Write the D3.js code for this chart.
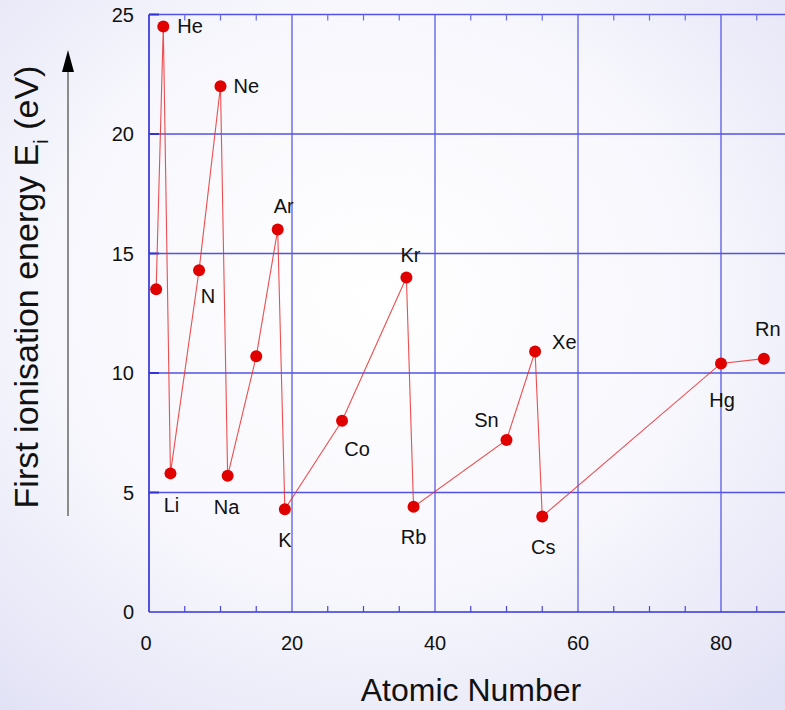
<!DOCTYPE html>
<html>
<head>
<meta charset="utf-8">
<script src="https://cdn.jsdelivr.net/npm/d3@7"></script>
<style>
  html, body { margin: 0; padding: 0; }
  body { width: 785px; height: 710px; overflow: hidden; }
  text { font-family: "Liberation Sans", Arial, sans-serif; fill: #111; }
</style>
</head>
<body>
<svg id="chart" width="785" height="710"></svg>
<script>
// First ionisation energies (eV) for selected elements
const atomicNumbers = [1, 2, 3, 7, 10, 11, 15, 18, 19, 27, 36, 37, 50, 54, 55, 80, 86];
const energies      = [13.5, 24.5, 5.8, 14.3, 22.0, 5.7, 10.7, 16.0, 4.3, 8.0, 14.0, 4.4, 7.2, 10.9, 4.0, 10.4, 10.6];
const symbols       = ["H", "He", "Li", "N", "Ne", "Na", "P", "Ar", "K", "Co", "Kr", "Rb", "Sn", "Xe", "Cs", "Hg", "Rn"];
const labelled      = ["He", "Li", "N", "Ne", "Na", "Ar", "K", "Co", "Kr", "Rb", "Sn", "Xe", "Cs", "Hg", "Rn"];
const xTicks = [0, 20, 40, 60, 80];
const yTicks = [0, 5, 10, 15, 20, 25];

// Where each element label sits relative to its marker
const labelPlacement = {
  He: {dx: 14, dy: 0, anchor: "start"},
  Ne: {dx: 13, dy: 0, anchor: "start"},
  N:  {dx: 9,  dy: 26, anchor: "middle"},
  Ar: {dx: 6,  dy: -24, anchor: "middle"},
  Li: {dx: 1,  dy: 32, anchor: "middle"},
  Na: {dx: -1, dy: 31, anchor: "middle"},
  K:  {dx: 0,  dy: 31, anchor: "middle"},
  Co: {dx: 15, dy: 28, anchor: "middle"},
  Kr: {dx: 4,  dy: -22, anchor: "middle"},
  Rb: {dx: 0,  dy: 30, anchor: "middle"},
  Sn: {dx: -20, dy: -20, anchor: "middle"},
  Xe: {dx: 17, dy: -9, anchor: "start"},
  Cs: {dx: 1,  dy: 31, anchor: "middle"},
  Hg: {dx: 1,  dy: 37, anchor: "middle"},
  Rn: {dx: 4,  dy: -30, anchor: "middle"}
};

const data = atomicNumbers.map((z, i) => ({z, e: energies[i], sym: symbols[i]}));

const svg = d3.select("#chart");

// soft lavender backdrop
const defs = svg.append("defs");
const bg = defs.append("radialGradient").attr("id", "bg")
  .attr("cx", "48%").attr("cy", "42%").attr("r", "75%");
bg.append("stop").attr("offset", "0%").attr("stop-color", "#ffffff");
bg.append("stop").attr("offset", "55%").attr("stop-color", "#f7f7fd");
bg.append("stop").attr("offset", "100%").attr("stop-color", "#e2e2f6");
svg.append("rect").attr("width", 785).attr("height", 710).attr("fill", "url(#bg)");

const x0 = 149, y0 = 612, yTop = 14.5;
const x = d3.scaleLinear().domain([0, 90]).range([x0, x0 + 90 * 7.15]);
const y = d3.scaleLinear().domain([0, 25]).range([y0, yTop]);

const grid = svg.append("g");
// horizontal grid lines
grid.selectAll("line.h").data(yTicks.filter(d => d > 0)).join("line")
  .attr("x1", x0).attr("x2", 785)
  .attr("y1", d => y(d)).attr("y2", d => y(d))
  .attr("stroke", "#4040e0").attr("stroke-opacity", 0.9).attr("stroke-width", 1.5);
// vertical grid lines
grid.selectAll("line.v").data(xTicks.filter(d => d > 0)).join("line")
  .attr("x1", d => x(d)).attr("x2", d => x(d))
  .attr("y1", yTop).attr("y2", y0)
  .attr("stroke", "#5555e6").attr("stroke-opacity", 0.75).attr("stroke-width", 1.7);

// axis frame: left and bottom
grid.append("line").attr("x1", x0).attr("x2", x0).attr("y1", yTop).attr("y2", y0)
  .attr("stroke", "#3434d8").attr("stroke-width", 1.7);
grid.append("line").attr("x1", x0).attr("x2", 785).attr("y1", y0).attr("y2", y0)
  .attr("stroke", "#3434d8").attr("stroke-width", 1.7);

// minor ticks every 5 along bottom and top edges
const minor = d3.range(5, 90, 5).filter(d => d % 20 !== 0);
grid.selectAll("line.mb").data(minor).join("line")
  .attr("x1", d => x(d)).attr("x2", d => x(d))
  .attr("y1", y0).attr("y2", y0 - 6)
  .attr("stroke", "#4646e0").attr("stroke-width", 1.2);
grid.selectAll("line.mt").data(minor).join("line")
  .attr("x1", d => x(d)).attr("x2", d => x(d))
  .attr("y1", yTop).attr("y2", yTop + 6)
  .attr("stroke", "#6a6ae8").attr("stroke-width", 1.2);
// major ticks on left edge
grid.selectAll("line.yt").data(yTicks.filter(d => d > 0)).join("line")
  .attr("x1", x0).attr("x2", x0 + 10)
  .attr("y1", d => y(d)).attr("y2", d => y(d))
  .attr("stroke", "#3434d8").attr("stroke-width", 2);

// tick labels
svg.append("g").selectAll("text").data(yTicks).join("text")
  .attr("x", 134).attr("y", d => y(d)).attr("dy", "0.35em")
  .attr("text-anchor", "end").attr("font-size", 20)
  .text(d => d);
svg.append("g").selectAll("text").data(xTicks).join("text")
  .attr("x", d => x(d) - (d === 0 ? 3 : 0)).attr("y", 643).attr("dy", "0.35em")
  .attr("text-anchor", "middle").attr("font-size", 20)
  .text(d => d);

// connecting line
const line = d3.line().x(d => x(d.z)).y(d => y(d.e));
svg.append("path").datum(data).attr("d", line)
  .attr("fill", "none").attr("stroke", "#e83030").attr("stroke-opacity", 0.85).attr("stroke-width", 1.1);

// markers
svg.append("g").selectAll("circle").data(data).join("circle")
  .attr("cx", d => x(d.z)).attr("cy", d => y(d.e)).attr("r", 6)
  .attr("fill", "#e00000");

// element labels
svg.append("g").selectAll("text").data(data.filter(d => labelled.includes(d.sym))).join("text")
  .attr("x", d => x(d.z) + labelPlacement[d.sym].dx)
  .attr("y", d => y(d.e) + labelPlacement[d.sym].dy)
  .attr("dy", "0.35em")
  .attr("text-anchor", d => labelPlacement[d.sym].anchor)
  .attr("font-size", 20)
  .text(d => d.sym);

// axis titles
svg.append("text").attr("x", 471).attr("y", 701)
  .attr("text-anchor", "middle").attr("font-size", 32).text("Atomic Number");

const yt = svg.append("text")
  .attr("transform", "translate(38,287) rotate(-90)")
  .attr("text-anchor", "middle").attr("font-size", 34);
yt.append("tspan").text("First ionisation energy E");
yt.append("tspan").attr("font-size", 20).attr("dy", 10).text("i");
yt.append("tspan").attr("dy", -10).text(" (eV)");

// upward arrow beside the y title
svg.append("line").attr("x1", 68).attr("x2", 68).attr("y1", 516).attr("y2", 70)
  .attr("stroke", "#808080").attr("stroke-width", 1.8);
svg.append("path").attr("d", "M68,50 L62,72 L74,72 Z").attr("fill", "#000");
</script>
</body>
</html>
